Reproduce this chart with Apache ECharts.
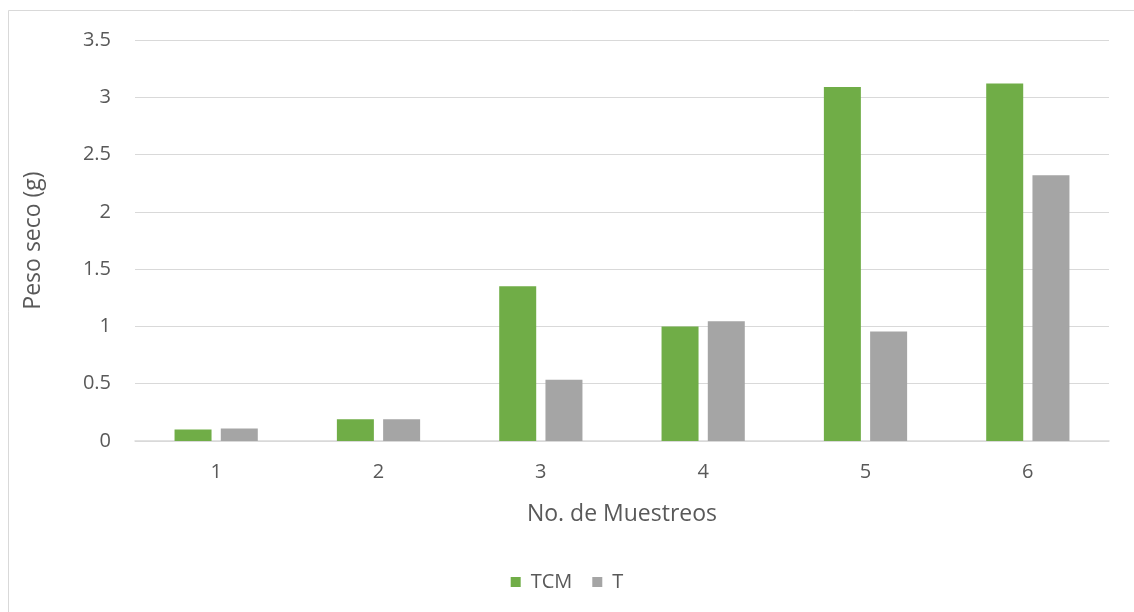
<!DOCTYPE html>
<html>
<head>
<meta charset="utf-8">
<script src="https://cdn.jsdelivr.net/npm/echarts@6/dist/echarts.min.js"></script>
<style>
  html, body { margin: 0; padding: 0; background: #fff; }
  #chart { width: 1134px; height: 612px; }
</style>
</head>
<body>
<div id="chart"></div>
<script>
// Sampling rounds and dry weight per treatment
const categories = ['1', '2', '3', '4', '5', '6'];
const tcmValues = [0.10, 0.19, 1.35, 1.00, 3.09, 3.12];
const tValues = [0.11, 0.19, 0.535, 1.045, 0.955, 2.32];
const yTicks = { min: 0, max: 3.5, interval: 0.5 };

const textColor = '#595959';
const fontFamily = '"Open Sans", sans-serif';

const chart = echarts.init(document.getElementById('chart'));
chart.setOption({
  animation: false,
  backgroundColor: '#ffffff',
  textStyle: { fontFamily: fontFamily, color: textColor },
  graphic: [{
    type: 'rect',
    shape: { x: 8.5, y: 10.5, width: 1300, height: 800 },
    style: { fill: 'none', stroke: '#d9d9d9', lineWidth: 1 },
    silent: true,
    z: -1
  }],
  grid: { left: 135, right: 25, top: 40, bottom: 171 },
  legend: {
    bottom: 15,
    left: 'center',
    itemWidth: 10,
    itemHeight: 10,
    itemGap: 20,
    icon: 'rect',
    textStyle: { fontSize: 20, color: textColor, fontFamily: fontFamily, padding: [0, 0, 0, 5] },
    data: ['TCM', 'T']
  },
  xAxis: {
    type: 'category',
    data: categories,
    name: 'No. de Muestreos',
    nameLocation: 'middle',
    nameGap: 62,
    nameTextStyle: { fontSize: 23, color: textColor },
    axisLine: { lineStyle: { color: '#d9d9d9', width: 1.5 } },
    axisTick: { show: false },
    axisLabel: { fontSize: 20, color: textColor, margin: 21 }
  },
  yAxis: {
    type: 'value',
    min: yTicks.min,
    max: yTicks.max,
    interval: yTicks.interval,
    name: 'Peso seco (g)',
    nameLocation: 'middle',
    nameGap: 90,
    nameTextStyle: { fontSize: 23, color: textColor },
    axisLine: { show: false },
    axisTick: { show: false },
    axisLabel: { fontSize: 20, color: textColor, margin: 24 },
    splitLine: { lineStyle: { color: '#d9d9d9', width: 1 } }
  },
  series: [
    {
      name: 'TCM',
      type: 'bar',
      data: tcmValues,
      barWidth: 37,
      barGap: '25%',
      itemStyle: { color: '#70ad47' }
    },
    {
      name: 'T',
      type: 'bar',
      data: tValues,
      barWidth: 37,
      barGap: '25%',
      itemStyle: { color: '#a5a5a5' }
    }
  ]
});
</script>
</body>
</html>
